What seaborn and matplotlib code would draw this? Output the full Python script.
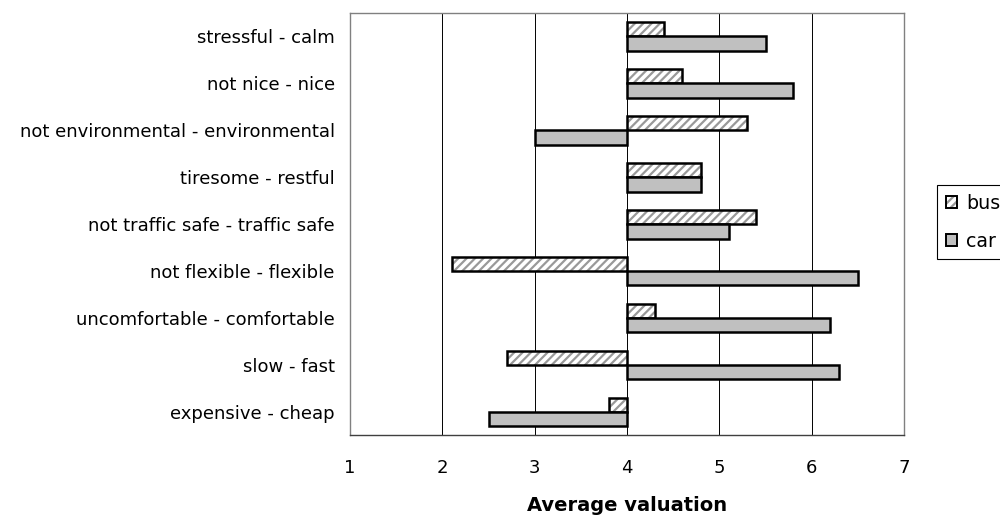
import matplotlib
matplotlib.use("Agg")
import matplotlib.pyplot as plt
import matplotlib.colors as mcolors
from matplotlib.patches import Patch
from matplotlib.ticker import FixedLocator, FuncFormatter
import numpy as np
import pandas as pd
import seaborn as sns

# ---- data ----
categories = [
    "stressful - calm",
    "not nice - nice",
    "not environmental - environmental",
    "tiresome - restful",
    "not traffic safe - traffic safe",
    "not flexible - flexible",
    "uncomfortable - comfortable",
    "slow - fast",
    "expensive - cheap",
]
bus = [4.4, 4.6, 5.3, 4.8, 5.4, 2.1, 4.3, 2.7, 3.8]
car = [5.5, 5.8, 3.0, 4.8, 5.1, 6.5, 6.2, 6.3, 2.5]
series = ["bus", "car"]
midpoint = 4
xtick_values = [1, 2, 3, 4, 5, 6, 7]

# ---- styling ----
sns.set_style("white")
plt.rcParams["font.family"] = ["DejaVu Sans"]
plt.rcParams["hatch.linewidth"] = 1.6
plt.rcParams["text.color"] = "black"
plt.rcParams["axes.labelcolor"] = "black"

df = pd.DataFrame({
    "attribute": categories * 2,
    "mode": [series[0]] * len(bus) + [series[1]] * len(car),
    "value": bus + car,
})
df["delta"] = df["value"] - midpoint

fig = plt.figure(figsize=(10, 5.19), dpi=100)
ax = fig.add_axes([0.350, 0.161, 0.554, 0.814])

sns.barplot(
    data=df, y="attribute", x="delta", hue="mode", hue_order=series,
    order=categories, orient="h",
    palette={"bus": "white", "car": "#C0C0C0"}, saturation=1,
    edgecolor="black", linewidth=1.8, width=0.61,
    errorbar=None, legend=False, ax=ax,
)

hatch_gray = mcolors.to_rgba("#999999")


def apply_hatch(p):
    p.set_hatch("////")
    if hasattr(p, "set_hatchcolor"):
        p.set_hatchcolor(hatch_gray)
    else:
        p._hatch_color = hatch_gray


for p in ax.containers[0]:
    apply_hatch(p)

# x axis: deltas shown as valuations
lo, hi = xtick_values[0] - midpoint, xtick_values[-1] - midpoint
ax.set_xlim(lo, hi)
ax.xaxis.set_major_locator(FixedLocator([v - midpoint for v in xtick_values]))
ax.xaxis.set_major_formatter(FuncFormatter(lambda v, pos: f"{v + midpoint:g}"))
for v in xtick_values[1:-1]:
    ax.axvline(v - midpoint, color="black", lw=0.7, zorder=0.5)

ax.set_ylabel("")
ax.set_xlabel("Average valuation", fontsize=14, fontweight="bold",
              labelpad=14, color="black")
ax.tick_params(axis="y", length=0, pad=11, labelsize=13, colors="black")
ax.tick_params(axis="x", length=6, width=1, direction="out", pad=11,
               labelsize=13, color="#404040", labelcolor="black")

for side in ["top", "left", "right"]:
    ax.spines[side].set_color("#808080")
    ax.spines[side].set_linewidth(1.0)
    ax.spines[side].set_visible(True)
ax.spines["bottom"].set_color("#404040")
ax.spines["bottom"].set_linewidth(1.0)

# legend
h_bus = Patch(facecolor="white", edgecolor="black", linewidth=1.4, hatch="////")
apply_hatch(h_bus)
h_car = Patch(facecolor="#C0C0C0", edgecolor="black", linewidth=1.4)
leg = fig.legend(
    [h_bus, h_car], series, loc="upper left",
    bbox_to_anchor=(0.937, 1 - 185 / 519), bbox_transform=fig.transFigure,
    frameon=True, fancybox=False, framealpha=1, edgecolor="black",
    fontsize=13.7, handlelength=0.6, handleheight=0.6, handletextpad=0.5,
    labelspacing=1.0, borderpad=0.45, borderaxespad=0,
)
leg.get_frame().set_linewidth(0.8)
for t in leg.get_texts():
    t.set_color("black")

fig.savefig("out.png", dpi=100)
